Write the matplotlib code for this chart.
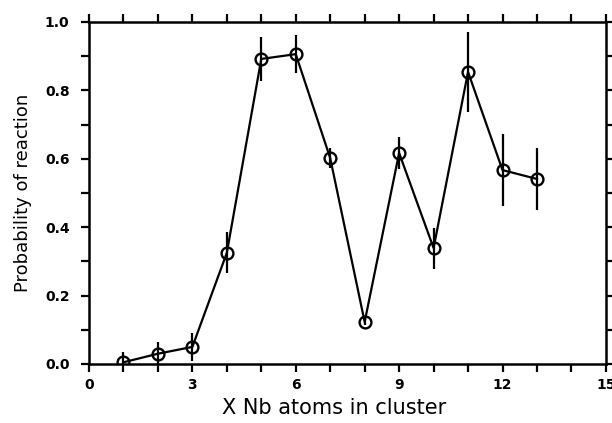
import matplotlib
matplotlib.use("Agg")
import matplotlib.pyplot as plt
from matplotlib.ticker import MultipleLocator

# Nb cluster size vs probability of reaction
n_atoms = [1, 2, 3, 4, 5, 6, 7, 8, 9, 10, 11, 12, 13]
prob = [0.005, 0.03, 0.05, 0.325, 0.892, 0.906, 0.602, 0.123, 0.617, 0.339, 0.854, 0.567, 0.541]
err = [0.03, 0.035, 0.04, 0.06, 0.065, 0.055, 0.03, 0.01, 0.048, 0.06, 0.117, 0.105, 0.09]

x_major = [0, 3, 6, 9, 12, 15]
y_major = [0.0, 0.2, 0.4, 0.6, 0.8, 1.0]
y_labels = ["0.0", "0.2", "0.4", "0.6", "0.8", "1.0"]

fig = plt.figure(figsize=(6.12, 4.23), dpi=100)
ax = fig.add_axes([0.1454, 0.1395, 0.8446, 0.8085])

ax.errorbar(n_atoms, prob, yerr=err, fmt='-o', color='black', lw=1.6,
            elinewidth=1.6, capsize=0, markersize=8.5, markerfacecolor='none',
            markeredgewidth=1.7)

ax.set_xlim(0, 15); ax.set_ylim(0, 1.0)
ax.set_xticks(x_major)
ax.xaxis.set_minor_locator(MultipleLocator(1))
ax.set_yticks(y_major)
ax.set_yticklabels(y_labels)
ax.yaxis.set_minor_locator(MultipleLocator(0.1))

for s in ax.spines.values():
    s.set_linewidth(1.8)

ax.tick_params(which='both', direction='out', top=True, right=True, width=1.6, length=6)
ax.tick_params(axis='x', which='major', pad=4)
ax.tick_params(axis='y', which='major', pad=8)
for lab in ax.get_xticklabels() + ax.get_yticklabels():
    lab.set_fontweight('bold'); lab.set_fontsize(10); lab.set_family('DejaVu Sans')

ax.set_xlabel('X Nb atoms in cluster', fontsize=15, family='DejaVu Sans')
ax.xaxis.set_label_coords(0.474, -0.098)
ax.set_ylabel('Probability of reaction', fontsize=13, family='DejaVu Sans', labelpad=9)

fig.savefig('out.png', dpi=100)
